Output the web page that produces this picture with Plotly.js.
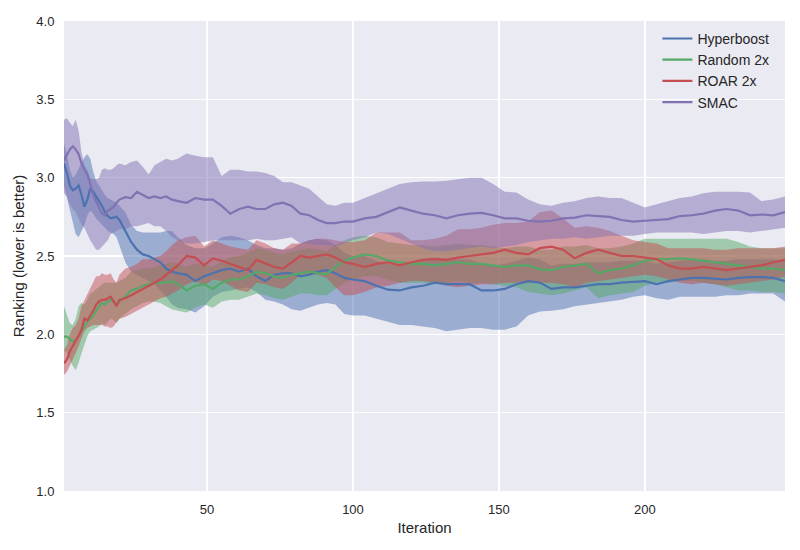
<!DOCTYPE html>
<html>
<head>
<meta charset="utf-8">
<script src="https://cdn.plot.ly/plotly-3.0.1.min.js"></script>
<style>
  html, body { margin: 0; padding: 0; background: #fff; }
  #chart { width: 800px; height: 550px; }
</style>
</head>
<body>
<div id="chart"></div>
<script>
// iterations
const iters = [1,2,3,4,5,6,7,8,9,10,
  11,12,13,14,15,16,17,18,19,20,
  22,24,26,28,30,32,34,36,38,40,
  43,46,49,52,55,58,61,64,67,70,
  73,76,79,82,85,88,91,94,97,100,
  104,108,112,116,120,124,128,132,136,140,
  144,148,152,156,160,164,168,172,176,180,
  184,188,192,196,200,204,208,212,216,220,
  224,228,232,236,240,244,248];

// Hyperboost
const hbMean = [3.09,3.03,2.95,2.92,2.93,2.95,2.89,2.815,2.86,2.93,
  2.91,2.88,2.85,2.82,2.78,2.755,2.74,2.745,2.75,2.73,
  2.66,2.59,2.54,2.51,2.50,2.48,2.46,2.42,2.40,2.39,
  2.38,2.34,2.37,2.39,2.41,2.42,2.40,2.42,2.37,2.34,
  2.38,2.39,2.39,2.37,2.38,2.40,2.41,2.39,2.36,2.35,
  2.34,2.31,2.285,2.28,2.30,2.31,2.33,2.32,2.32,2.32,
  2.28,2.28,2.29,2.32,2.34,2.33,2.29,2.30,2.30,2.31,
  2.32,2.32,2.33,2.335,2.34,2.32,2.34,2.35,2.36,2.36,
  2.355,2.35,2.36,2.365,2.365,2.36,2.34];
const hbHi = [3.22,3.15,3.05,3.00,3.02,3.06,3.10,3.13,3.15,3.12,
  3.04,2.98,2.95,2.92,2.89,2.87,2.86,2.85,2.84,2.82,
  2.78,2.70,2.66,2.65,2.65,2.65,2.65,2.66,2.66,2.62,
  2.57,2.55,2.55,2.58,2.62,2.63,2.62,2.60,2.57,2.55,
  2.55,2.54,2.55,2.58,2.60,2.61,2.60,2.57,2.52,2.50,
  2.50,2.47,2.45,2.44,2.46,2.47,2.49,2.48,2.48,2.48,
  2.45,2.44,2.45,2.47,2.49,2.48,2.44,2.45,2.45,2.46,
  2.46,2.46,2.47,2.47,2.47,2.45,2.46,2.47,2.48,2.48,
  2.47,2.47,2.48,2.48,2.48,2.48,2.47];
const hbLo = [2.95,2.86,2.80,2.72,2.64,2.62,2.66,2.70,2.76,2.79,
  2.77,2.74,2.72,2.70,2.68,2.66,2.65,2.64,2.62,2.56,
  2.46,2.40,2.38,2.36,2.34,2.32,2.28,2.24,2.19,2.17,
  2.16,2.14,2.18,2.24,2.27,2.28,2.29,2.30,2.27,2.22,
  2.21,2.19,2.16,2.15,2.17,2.19,2.20,2.19,2.13,2.12,
  2.12,2.10,2.08,2.06,2.06,2.05,2.04,2.02,2.03,2.04,
  2.04,2.03,2.03,2.05,2.12,2.145,2.15,2.16,2.18,2.19,
  2.20,2.21,2.22,2.24,2.25,2.23,2.22,2.24,2.24,2.24,
  2.24,2.25,2.25,2.26,2.26,2.26,2.21];

// Random 2x
const rdMean = [1.985,1.985,1.97,1.955,1.96,1.99,2.02,2.05,2.08,2.10,
  2.12,2.15,2.18,2.20,2.19,2.21,2.22,2.21,2.19,2.21,
  2.24,2.28,2.29,2.31,2.32,2.33,2.33,2.33,2.34,2.32,
  2.28,2.31,2.32,2.29,2.33,2.35,2.35,2.37,2.40,2.39,
  2.37,2.36,2.38,2.39,2.40,2.39,2.385,2.43,2.47,2.49,
  2.51,2.50,2.47,2.46,2.45,2.45,2.44,2.45,2.46,2.45,
  2.45,2.44,2.43,2.44,2.44,2.415,2.41,2.43,2.44,2.45,
  2.39,2.41,2.42,2.44,2.47,2.48,2.48,2.485,2.48,2.47,
  2.46,2.45,2.44,2.43,2.42,2.42,2.41];
const rdHi = [2.18,2.12,2.07,2.06,2.10,2.18,2.20,2.19,2.22,2.26,
  2.27,2.29,2.30,2.32,2.33,2.33,2.33,2.33,2.33,2.34,
  2.36,2.40,2.41,2.42,2.42,2.43,2.44,2.45,2.46,2.45,
  2.43,2.45,2.45,2.43,2.47,2.49,2.50,2.52,2.55,2.54,
  2.52,2.51,2.53,2.54,2.55,2.54,2.53,2.57,2.60,2.62,
  2.63,2.62,2.59,2.58,2.57,2.57,2.56,2.57,2.58,2.57,
  2.57,2.56,2.55,2.56,2.56,2.54,2.54,2.56,2.56,2.57,
  2.55,2.55,2.56,2.58,2.61,2.61,2.61,2.61,2.61,2.61,
  2.61,2.61,2.59,2.56,2.55,2.55,2.55];
const rdLo = [1.90,1.88,1.84,1.80,1.77,1.82,1.88,1.94,1.99,2.02,
  2.03,2.04,2.05,2.07,2.06,2.08,2.10,2.09,2.07,2.10,
  2.13,2.16,2.18,2.20,2.21,2.21,2.20,2.18,2.16,2.15,
  2.14,2.17,2.19,2.17,2.21,2.22,2.22,2.24,2.26,2.25,
  2.23,2.22,2.24,2.26,2.26,2.25,2.25,2.29,2.33,2.35,
  2.37,2.37,2.35,2.33,2.33,2.33,2.32,2.33,2.34,2.33,
  2.33,2.32,2.31,2.30,2.27,2.26,2.25,2.26,2.28,2.30,
  2.23,2.25,2.26,2.27,2.31,2.33,2.33,2.34,2.34,2.33,
  2.32,2.30,2.28,2.28,2.27,2.27,2.26];

// ROAR 2x
const roMean = [1.815,1.84,1.89,1.93,1.96,1.99,2.03,2.10,2.09,2.12,
  2.15,2.19,2.21,2.22,2.22,2.23,2.24,2.21,2.18,2.22,
  2.23,2.25,2.27,2.29,2.31,2.33,2.35,2.38,2.41,2.44,
  2.50,2.49,2.44,2.485,2.47,2.45,2.43,2.41,2.475,2.45,
  2.43,2.42,2.46,2.50,2.49,2.50,2.51,2.49,2.46,2.45,
  2.43,2.45,2.46,2.44,2.46,2.475,2.48,2.475,2.49,2.50,
  2.51,2.52,2.54,2.52,2.51,2.55,2.56,2.54,2.485,2.52,
  2.54,2.52,2.50,2.50,2.49,2.48,2.44,2.42,2.42,2.43,
  2.42,2.41,2.42,2.43,2.44,2.46,2.475];
const roHi = [1.90,1.93,2.00,2.04,2.06,2.10,2.18,2.22,2.26,2.30,
  2.34,2.37,2.37,2.39,2.38,2.38,2.39,2.35,2.33,2.38,
  2.42,2.43,2.45,2.48,2.48,2.49,2.50,2.53,2.57,2.60,
  2.62,2.63,2.56,2.60,2.58,2.56,2.55,2.54,2.60,2.58,
  2.55,2.54,2.58,2.58,2.60,2.61,2.61,2.60,2.59,2.59,
  2.60,2.65,2.65,2.65,2.60,2.60,2.61,2.63,2.67,2.67,
  2.68,2.70,2.71,2.71,2.72,2.78,2.79,2.74,2.68,2.69,
  2.68,2.66,2.63,2.60,2.59,2.58,2.55,2.55,2.55,2.55,
  2.54,2.54,2.55,2.55,2.55,2.55,2.56];
const roLo = [1.74,1.76,1.80,1.84,1.88,1.92,1.97,2.02,2.04,2.05,
  2.06,2.06,2.06,2.06,2.05,2.05,2.04,2.05,2.08,2.10,
  2.11,2.13,2.15,2.17,2.19,2.21,2.23,2.24,2.26,2.28,
  2.32,2.34,2.31,2.35,2.34,2.31,2.28,2.27,2.33,2.32,
  2.30,2.29,2.33,2.38,2.38,2.38,2.36,2.30,2.25,2.25,
  2.27,2.30,2.31,2.33,2.34,2.34,2.33,2.31,2.30,2.31,
  2.32,2.32,2.33,2.33,2.33,2.33,2.33,2.32,2.30,2.33,
  2.34,2.35,2.36,2.37,2.38,2.37,2.35,2.33,2.32,2.33,
  2.32,2.31,2.32,2.33,2.34,2.35,2.37];

// SMAC
const smMean = [3.11,3.15,3.18,3.20,3.18,3.15,3.09,3.05,3.02,2.96,
  2.89,2.85,2.81,2.77,2.76,2.79,2.80,2.815,2.84,2.86,
  2.875,2.87,2.91,2.89,2.87,2.88,2.87,2.88,2.86,2.85,
  2.84,2.87,2.86,2.86,2.82,2.77,2.80,2.815,2.80,2.80,
  2.83,2.84,2.82,2.77,2.76,2.73,2.71,2.71,2.72,2.72,
  2.74,2.75,2.78,2.81,2.79,2.77,2.76,2.74,2.76,2.77,
  2.775,2.76,2.74,2.74,2.725,2.72,2.725,2.74,2.745,2.76,
  2.755,2.75,2.73,2.72,2.725,2.73,2.735,2.755,2.76,2.77,
  2.79,2.80,2.79,2.76,2.765,2.76,2.78];
const smHi = [3.37,3.38,3.35,3.33,3.37,3.30,3.16,3.08,3.05,3.00,
  2.99,2.99,3.00,3.05,3.06,3.05,3.05,3.06,3.08,3.09,
  3.08,3.10,3.11,3.07,3.02,3.08,3.10,3.12,3.11,3.12,
  3.155,3.14,3.13,3.13,3.01,3.05,3.05,3.04,3.04,3.03,
  3.01,2.97,2.97,2.95,2.93,2.88,2.83,2.82,2.84,2.84,
  2.87,2.90,2.93,2.96,2.97,2.975,2.975,2.98,2.99,3.00,
  3.00,2.96,2.91,2.905,2.86,2.83,2.82,2.84,2.85,2.87,
  2.88,2.87,2.87,2.84,2.81,2.83,2.85,2.87,2.88,2.90,
  2.91,2.91,2.91,2.905,2.85,2.86,2.88];
const smLo = [2.90,2.88,2.83,2.80,2.78,2.74,2.70,2.68,2.64,2.60,
  2.57,2.54,2.54,2.56,2.58,2.60,2.64,2.65,2.66,2.67,
  2.67,2.69,2.69,2.70,2.71,2.69,2.69,2.66,2.62,2.60,
  2.58,2.58,2.59,2.60,2.60,2.60,2.60,2.60,2.61,2.60,
  2.60,2.61,2.62,2.58,2.58,2.57,2.57,2.56,2.58,2.60,
  2.62,2.65,2.64,2.61,2.58,2.55,2.53,2.53,2.54,2.55,
  2.56,2.55,2.56,2.57,2.59,2.60,2.61,2.61,2.62,2.61,
  2.62,2.63,2.63,2.63,2.64,2.65,2.65,2.65,2.65,2.64,
  2.65,2.66,2.66,2.65,2.66,2.67,2.68];

const yTicks = [1.0,1.5,2.0,2.5,3.0,3.5,4.0];
const xTicks = [50,100,150,200];

// seaborn "deep" colours
const series = [
  {name:'Hyperboost', mean:hbMean, hi:hbHi, lo:hbLo, rgb:[76,114,176]},
  {name:'Random 2x',  mean:rdMean, hi:rdHi, lo:rdLo, rgb:[85,168,104]},
  {name:'ROAR 2x',    mean:roMean, hi:roHi, lo:roLo, rgb:[196,78,82]},
  {name:'SMAC',       mean:smMean, hi:smHi, lo:smLo, rgb:[129,114,178]}
];

const traces = [];
const backX = iters.slice().reverse();
// bands first, so every line sits on top of them
series.forEach(s => {
  const c = s.rgb.join(',');
  traces.push({
    x: iters.concat(backX),
    y: s.hi.concat(s.lo.slice().reverse()),
    mode: 'lines', fill: 'toself',
    fillcolor: `rgba(${c},0.5)`,
    line: {width: 0, color: 'rgba(0,0,0,0)'},
    hoverinfo: 'skip', showlegend: false
  });
});
series.forEach(s => {
  traces.push({
    x: iters, y: s.mean, mode: 'lines', name: s.name,
    line: {width: 2.2, color: `rgb(${s.rgb.join(',')})`}
  });
});

const font = 'Liberation Sans, Arial, sans-serif';
const layout = {
  width: 800, height: 550,
  margin: {l: 64, r: 15, t: 21, b: 59},
  paper_bgcolor: '#ffffff',
  plot_bgcolor: '#EAEAF2',
  font: {family: font, size: 13, color: '#262626'},
  showlegend: true,
  legend: {
    x: 0.823, y: 0.996, xanchor: 'left', yanchor: 'top',
    bgcolor: 'rgba(0,0,0,0)', font: {size: 14, color: '#262626'},
    tracegroupgap: 0
  },
  xaxis: {
    range: [1, 248], tickvals: xTicks, ticktext: xTicks.map(String),
    showgrid: true, gridcolor: '#ffffff', gridwidth: 1.3,
    zeroline: false, showline: false,
    ticks: 'outside', ticklen: 6, tickcolor: 'rgba(0,0,0,0)',
    title: {text: 'Iteration', font: {size: 15}, standoff: 6}
  },
  yaxis: {
    range: [1, 4], tickvals: yTicks, ticktext: yTicks.map(v => v.toFixed(1)),
    showgrid: true, gridcolor: '#ffffff', gridwidth: 1.3,
    zeroline: false, showline: false,
    ticks: 'outside', ticklen: 6, tickcolor: 'rgba(0,0,0,0)',
    title: {text: 'Ranking (lower is better)', font: {size: 15}, standoff: 8}
  }
};

Plotly.newPlot('chart', traces, layout, {displayModeBar: false, staticPlot: true});
</script>
</body>
</html>
